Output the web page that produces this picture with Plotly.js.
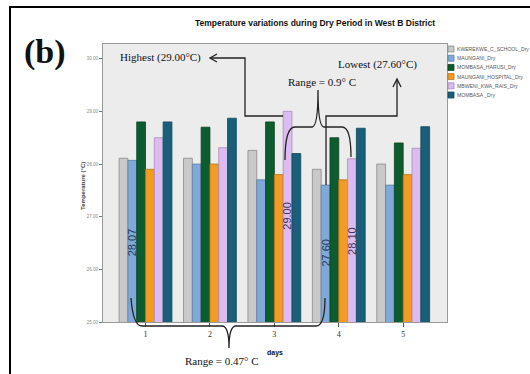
<!DOCTYPE html>
<html><head><meta charset="utf-8">
<script src="https://cdn.plot.ly/plotly-3.0.1.min.js"></script>
<style>html,body{margin:0;padding:0;background:#fff;}</style>
</head><body>
<div id="chart" style="width:530px;height:374px;"></div>
<script>
// ---- data ----
const days = [1, 2, 3, 4, 5];
const dayLabels = ["1", "2", "3", "4", "5"];
const seriesNames = ["KWEREKWE_C_SCHOOL_Dry", "MAUNGANI_Dry", "MOMBASA_HARUSI_Dry", "MAUNGANI_HOSPITAL_Dry", "MBWENI_KWA_RAIS_Dry", "MOMBASA _Dry"];
const kwerekwe = [28.11, 28.11, 28.26, 27.90, 28.00];
const maungani = [28.07, 28.00, 27.70, 27.60, 27.60];
const harusi   = [28.80, 28.70, 28.80, 28.50, 28.40];
const hospital = [27.90, 28.00, 27.80, 27.70, 27.80];
const mbweni   = [28.50, 28.31, 29.00, 28.10, 28.30];
const mombasa  = [28.80, 28.87, 28.20, 28.68, 28.71];
const yTicks = [25, 26, 27, 28, 29, 30];
// labelled bars: [series index, day index]
const labelled = [[1, 0], [4, 2], [1, 3], [4, 3]];

// ---- styles ----
const colors = ["#c9c9c9", "#7fa9d8", "#0d5c2f", "#f59a23", "#dcbcf0", "#1a5f79"];
const lines  = ["#8a8a8a", "#5a7fa8", "#0a4322", "#b87418", "#a88cba", "#134659"];
const allSeries = [kwerekwe, maungani, harusi, hospital, mbweni, mombasa];

// plot area in pixels
const L = 103, R = 447, T = 44, B = 322;
const px = x => (x - L) / (R - L);
const py = y => (B - y) / (B - T);
const P = (x, y) => px(x).toFixed(4) + "," + py(y).toFixed(4);

const bargap = 0.18;
const bw = (1 - bargap) / 6;

const traces = allSeries.map((vals, i) => ({
  type: "bar", x: days, y: vals, name: seriesNames[i],
  marker: {color: colors[i], line: {color: lines[i], width: 0.8}},
  showlegend: false, hoverinfo: "skip"
}));

const annotations = [];
const shapes = [];

// rotated value labels
const labelY = [26.52, 27.01, 26.31, 26.54];
const labelColors = ["#1d3c63", "#3c3560", "#1d3c63", "#3c3560"];
labelled.forEach(([s, d], k) => {
  annotations.push({
    x: days[d] + (s - 2.5) * bw, y: labelY[k], xref: "x", yref: "y",
    text: allSeries[s][d].toFixed(2), textangle: -90, showarrow: false,
    font: {family: "Liberation Sans, Arial, sans-serif", size: 11, color: labelColors[k]}
  });
});

// legend (manual, compact)
seriesNames.forEach((n, i) => {
  const cy = 49 + i * 9.2;
  shapes.push({type: "rect", xref: "paper", yref: "paper",
    x0: px(448), x1: px(454), y0: py(cy + 3), y1: py(cy - 3),
    fillcolor: colors[i], line: {color: lines[i], width: 0.8}});
  annotations.push({xref: "paper", yref: "paper", x: px(455), y: py(cy),
    xanchor: "left", yanchor: "middle", showarrow: false, text: n,
    font: {family: "Liberation Sans, Arial, sans-serif", size: 5.1, color: "#555"}});
});

// connector lines and braces
const lc = {color: "#222", width: 1.3};
shapes.push({type: "path", xref: "paper", yref: "paper", line: lc,
  path: "M" + P(283, 116) + "L" + P(245, 116) + "L" + P(245, 58) + "L" + P(210, 58)});
shapes.push({type: "path", xref: "paper", yref: "paper", line: lc,
  path: "M" + P(217, 54) + "L" + P(210, 58) + "L" + P(217, 62)});
shapes.push({type: "path", xref: "paper", yref: "paper", line: lc,
  path: "M" + P(326, 185) + "L" + P(326, 116) + "L" + P(397, 116) + "L" + P(397, 80)});
shapes.push({type: "path", xref: "paper", yref: "paper", line: lc,
  path: "M" + P(393, 87) + "L" + P(397, 79) + "L" + P(401, 87)});
shapes.push({type: "path", xref: "paper", yref: "paper", line: lc,
  path: "M" + P(285, 160) + "Q" + P(285, 127) + " " + P(295, 127) + "L" + P(312, 127) +
        "Q" + P(318, 127) + " " + P(318, 90) + "Q" + P(318, 127) + " " + P(324, 127) +
        "L" + P(342, 127) + "Q" + P(351, 127) + " " + P(351, 157)});
shapes.push({type: "path", xref: "paper", yref: "paper", line: lc,
  path: "M" + P(131, 298) + "Q" + P(133, 326) + " " + P(142, 326) + "L" + P(222, 326) +
        "Q" + P(229, 326) + " " + P(229, 348) + "Q" + P(229, 326) + " " + P(236, 326) +
        "L" + P(316, 326) + "Q" + P(325, 326) + " " + P(325, 298)});
// outer frame
shapes.push({type: "rect", xref: "paper", yref: "paper",
  x0: px(10), x1: px(545), y0: py(7), y1: py(400), line: {color: "#000", width: 2}});

const serif = "Liberation Serif, Times New Roman, serif";
const addText = (x, y, text, size, fam, extra) => annotations.push(Object.assign({
  xref: "paper", yref: "paper", x: px(x), y: py(y), xanchor: "center", yanchor: "middle",
  showarrow: false, text: text, font: {family: fam, size: size, color: "#111"}}, extra || {}));
addText(45, 52, "<b>(b)</b>", 34, serif);
addText(160, 57, "Highest (29.00°C)", 11, serif);
addText(377, 64, "Lowest (27.60°C)", 11, serif);
addText(322, 82, "Range = 0.9° C", 11, serif);
addText(222, 361, "Range = 0.47° C", 11, serif);
addText(275, 353, "<b>days</b>", 7, "Liberation Sans, Arial, sans-serif");
addText(83, 186, "<b>Temperature (°C)</b>", 6, "Liberation Sans, Arial, sans-serif", {textangle: -90, font: {family: "Liberation Sans, Arial, sans-serif", size: 6, color: "#444"}});

const layout = {
  width: 530, height: 374,
  margin: {l: L, r: 530 - R, t: T, b: 374 - B, pad: 0},
  paper_bgcolor: "#fff", plot_bgcolor: "#ececec",
  barmode: "group", bargap: bargap, bargroupgap: 0,
  showlegend: false,
  title: {text: "<b>Temperature variations during Dry Period in West B District</b>",
    x: 315 / 530, xanchor: "center", y: 1 - 23 / 374, yanchor: "middle",
    font: {family: "Liberation Sans, Arial, sans-serif", size: 8.5, color: "#111"}},
  xaxis: {type: "linear", range: [0.34, 5.68], tickvals: days, ticktext: dayLabels,
    showgrid: false, zeroline: false, showline: true, mirror: true, linecolor: "#999", linewidth: 1,
    ticks: "outside", ticklen: 4, tickcolor: "#555",
    tickfont: {family: "Liberation Serif, serif", size: 8, color: "#333"}},
  yaxis: {range: [25, 30.28], tickvals: yTicks, ticktext: yTicks.map(v => v.toFixed(2)),
    showgrid: false, zeroline: false, showline: true, mirror: true, linecolor: "#999", linewidth: 1,
    ticks: "outside", ticklen: 3, tickcolor: "#777",
    tickfont: {family: "Liberation Sans, sans-serif", size: 4.5, color: "#888"}},
  annotations: annotations, shapes: shapes
};
Plotly.newPlot("chart", traces, layout, {displayModeBar: false, staticPlot: true});
</script>
</body></html>
